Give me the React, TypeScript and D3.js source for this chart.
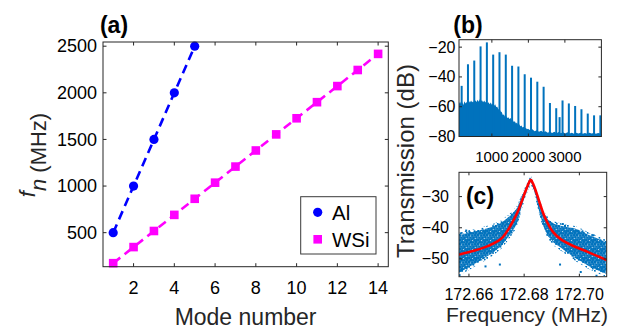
import React from 'react';
import * as d3 from 'd3';

const FONT = '"Liberation Sans", Arial, Helvetica, sans-serif';
const AXIS = '#262626';
const SPEC_BLUE = '#0072BD';

// ---------- (a) mode frequencies ----------
const modeTicks = [2, 4, 6, 8, 10, 12, 14];
const fnTicks = [500, 1000, 1500, 2000, 2500];
const alModes = [1, 2, 3, 4, 5];
const alFreqs = [500, 1000, 1500, 2000, 2500];
const wsiModes = [1, 2, 3, 4, 5, 6, 7, 8, 9, 10, 11, 12, 13, 14];
const wsiFreqs = [172.7, 345.4, 518.0, 690.7, 863.4, 1036.1, 1208.8, 1381.4, 1554.1, 1726.8, 1899.5, 2072.2, 2244.8, 2417.5];

// ---------- (b) wide spectrum ----------
const specXTicks = [1000, 2000, 3000];
const specYTicks = [-80, -60, -40, -20];
const peakFreqs = [172.7, 345.4, 518.0, 690.7, 863.4, 1036.1, 1208.8, 1381.4, 1554.1, 1726.8, 1899.5, 2072.2, 2244.8, 2417.5, 2590.2, 2762.9, 2855, 2935.6, 3108.2, 3280.9, 3453.6, 3626.3, 3799.0, 3971.6];
const peakLevels = [-46, -31.5, -29, -19.5, -16.8, -25, -23.4, -25, -32.5, -33, -38.2, -40.5, -43.2, -46.6, -57.5, -61, -67, -55.8, -57.8, -59.5, -61.7, -64.6, -65.8, -65.8];
const floorFreqs = [100, 130, 160, 190, 220, 250, 280, 310, 340, 370, 400, 430, 460, 490, 520, 550, 580, 610, 640, 670, 700, 730, 760, 790, 820, 850, 880, 910, 940, 970, 1000, 1030, 1060, 1090, 1120, 1150, 1180, 1210, 1240, 1270, 1300, 1330, 1360, 1390, 1420, 1450, 1480, 1510, 1540, 1570, 1600, 1630, 1660, 1690, 1720, 1750, 1780, 1810, 1840, 1870, 1900, 1930, 1960, 1990, 2050, 2110, 2170, 2230, 2290, 2350, 2410, 2470, 2530, 2590, 2650, 2710, 2770, 2830, 2890, 2950, 3010, 3070, 3130, 3190, 3250, 3310, 3370, 3430, 3490, 3550, 3610, 3670, 3730, 3790, 3850, 3910, 3970, 4000];
const floorLevels = [-58, -56.6, -58.4, -57, -58.8, -56.4, -57.8, -56.8, -58.2, -56, -57.2, -55.8, -57, -56.4, -57.6, -55.6, -56.8, -55.4, -56.6, -55, -56.2, -55.6, -57, -55.8, -57.2, -56.4, -57.8, -57, -58.4, -57.2, -58.6, -57.8, -59.4, -58.4, -60.2, -60, -61.8, -61.4, -63.2, -63.6, -65.6, -65.2, -66.8, -66.2, -67.6, -67, -68.2, -67.6, -69, -68.6, -70.2, -69.8, -71.2, -70.6, -72.2, -71.8, -73.2, -72.6, -74, -73.4, -74.6, -74.2, -75.2, -74.8, -75.8, -75.2, -76.4, -75.8, -76.8, -76.2, -77.2, -76.4, -77.4, -76.8, -77.6, -76.8, -77.8, -77, -77.8, -77.2, -78, -77.2, -78, -77.4, -78.2, -77.4, -78, -77.4, -78.2, -77.6, -78.2, -77.4, -78, -77.6, -78.2, -77.6, -78, -78];

// ---------- (c) single resonance ----------
const resXTicks = [172.66, 172.68, 172.70];
const resYTicks = [-50, -40, -30];
const cloudFreqs = [172.6563, 172.6600, 172.6640, 172.6680, 172.6718, 172.6754, 172.6775, 172.6791, 172.6805, 172.6815, 172.6824, 172.6833, 172.6843, 172.6855, 172.6870, 172.6887, 172.6910, 172.6936, 172.6960, 172.6984, 172.7010, 172.7032, 172.7060, 172.7099];
const cloudUpper = [-42.4, -41.6, -40.8, -39.8, -38.4, -35.8, -33.6, -30.2, -27.4, -25.6, -24.0, -25.8, -28.4, -31.6, -35.2, -37.4, -38.8, -39.4, -39.8, -40.2, -41.2, -42.2, -43.2, -44.8];
const cloudLower = [-54.5, -52.6, -50.6, -48.4, -45.8, -41.6, -38.6, -33.2, -29.2, -26.8, -25.2, -27.2, -30.4, -35.0, -39.6, -42.8, -45.0, -46.6, -48.2, -49.6, -51.0, -52.2, -53.4, -54.8];
const outlierFreqs = [172.6566, 172.6575, 172.6602, 172.6660, 172.6712, 172.6930, 172.6948, 172.7005, 172.7062, 172.7085, 172.6570, 172.6940, 172.7050, 172.6590, 172.6995];
const outlierLevels = [-55.2, -53.8, -41.4, -52.4, -51.8, -51.8, -39.4, -54.2, -55.4, -54.0, -41.8, -38.8, -42.4, -40.9, -41.0];
const fitFreqs = [172.6563, 172.6621, 172.6670, 172.6718, 172.6754, 172.6775, 172.6791, 172.6805, 172.6816, 172.6824, 172.6832, 172.6843, 172.6857, 172.6875, 172.6905, 172.6936, 172.6984, 172.7032, 172.7099];
const fitLevels = [-48.6, -47.3, -45.8, -43.4, -38.8, -35.2, -31.6, -28.2, -25.8, -24.6, -25.8, -28.4, -32.2, -36.6, -41.4, -43.9, -46.1, -47.8, -50.4];

// speckle texture positions within a 9x9 tile (style only)
const speckleX = [0, 3.1, 6.2, 1.4, 4.6, 7.5, 0.3, 2.8, 5.7, 8.0, 1.9, 4.2, 6.9, 0.8, 3.6];
const speckleY = [0, 0.6, 0.2, 2.5, 2.9, 2.2, 5.0, 4.6, 5.3, 4.9, 7.0, 7.4, 6.8, 8.3, 8.6];

type Scale = d3.ScaleLinear<number, number>;

function Box({ x, y, ticksX, ticksY, tl = 3.5 }: { x: Scale; y: Scale; ticksX: number[]; ticksY: number[]; tl?: number }) {
  const [x0, x1] = x.range();
  const [y0, y1] = y.range();
  return (
    <g stroke={AXIS} strokeWidth={1} fill="none">
      {ticksX.map((t) => (
        <g key={'x' + t}>
          <line x1={x(t)} x2={x(t)} y1={y0} y2={y0 - tl} />
          <line x1={x(t)} x2={x(t)} y1={y1} y2={y1 + tl} />
        </g>
      ))}
      {ticksY.map((t) => (
        <g key={'y' + t}>
          <line x1={x0} x2={x0 + tl} y1={y(t)} y2={y(t)} />
          <line x1={x1} x2={x1 - tl} y1={y(t)} y2={y(t)} />
        </g>
      ))}
      <rect x={x0} y={y1} width={x1 - x0} height={y0 - y1} />
    </g>
  );
}

export default function App() {
  // ---- (a)
  const xa = d3.scaleLinear().domain([0.5, 14.5]).range([103, 388.3]);
  const ya = d3.scaleLinear().domain([135, 2545]).range([266.7, 42]);
  const ptLine = d3.line<[number, number]>().x((d) => xa(d[0])).y((d) => ya(d[1]));
  const alPts: [number, number][] = alModes.map((m, i) => [m, alFreqs[i]]);
  const wsiPts: [number, number][] = wsiModes.map((m, i) => [m, wsiFreqs[i]]);

  // ---- (b)
  const xb = d3.scaleLinear().domain([100, 4000]).range([459, 601.4]);
  const yb = d3.scaleLinear().domain([-80, -15]).range([136.5, 39.7]);
  const floorArea = d3
    .area<number>()
    .x((_, i) => xb(floorFreqs[i]))
    .y0(yb(-80))
    .y1((d) => yb(d));

  // ---- (c)
  const xc = d3.scaleLinear().domain([172.6564, 172.7099]).range([459, 606.7]);
  const yc = d3.scaleLinear().domain([-55.7, -22.2]).range([276.7, 172.3]);
  const cloudArea = d3
    .area<number>()
    .x((_, i) => xc(cloudFreqs[i]))
    .y0((_, i) => yc(cloudLower[i]))
    .y1((d) => yc(d));
  const haloArea = d3
    .area<number>()
    .x((_, i) => xc(cloudFreqs[i]))
    .y0((_, i) => yc(cloudLower[i]) + 3)
    .y1((d) => yc(d) - 2.5);
  const fitLine = d3
    .line<number>()
    .x((_, i) => xc(fitFreqs[i]))
    .y((d) => yc(d))
    .curve(d3.curveCatmullRom);

  const tickFont = { fontFamily: FONT, fill: '#000' } as const;

  return (
    <svg width={626} height={331} style={{ position: 'absolute', left: 0, top: 0, background: '#fff' }}>
      <defs>
        <clipPath id="clipB">
          <rect x={459} y={39.7} width={142.4} height={96.8} />
        </clipPath>
        <clipPath id="clipC">
          <rect x={459} y={172.3} width={147.7} height={104.4} />
        </clipPath>
        <pattern id="dots" width={9} height={9} patternUnits="userSpaceOnUse">
          {speckleX.filter((_, i) => i % 2 === 0).map((sx, i) => (
            <rect key={i} x={sx} y={speckleY[i * 2]} width={1.7} height={1.7} fill={SPEC_BLUE} />
          ))}
        </pattern>
        <pattern id="dense" width={9} height={9} patternUnits="userSpaceOnUse">
          <rect x={0} y={0} width={9} height={9} fill={SPEC_BLUE} opacity={0.82} />
          {speckleX.map((sx, i) => (
            <rect key={i} x={sx} y={speckleY[i]} width={2} height={2} fill={SPEC_BLUE} />
          ))}
          <rect x={2.2} y={1.6} width={0.9} height={0.9} fill="#fff" opacity={0.8} />
          <rect x={6.8} y={4.0} width={0.9} height={0.9} fill="#fff" opacity={0.8} />
          <rect x={4.0} y={6.1} width={0.9} height={0.9} fill="#fff" opacity={0.8} />
        </pattern>
      </defs>
      <rect x={0} y={0} width={626} height={331} fill="#fff" />

      {/* ================= (a) ================= */}
      <text x={114} y={33} textAnchor="middle" fontFamily={FONT} fontWeight="bold" fontSize={23}>(a)</text>
      <path d={ptLine(alPts) || ''} stroke="#0000FF" strokeWidth={2.6} strokeDasharray="9,5.5" fill="none" />
      <path d={ptLine(wsiPts) || ''} stroke="#FF00FF" strokeWidth={2.6} strokeDasharray="9,5.5" fill="none" />
      {alPts.map((d, i) => (
        <circle key={'al' + i} cx={xa(d[0])} cy={ya(d[1])} r={4.6} fill="#0000FF" />
      ))}
      {wsiPts.map((d, i) => (
        <rect key={'ws' + i} x={xa(d[0]) - 4.3} y={ya(d[1]) - 4.3} width={8.6} height={8.6} fill="#FF00FF" />
      ))}
      <Box x={xa} y={ya} ticksX={modeTicks} ticksY={fnTicks} />
      {modeTicks.map((t) => (
        <text key={'mx' + t} x={xa(t)} y={294} textAnchor="middle" fontSize={18} {...tickFont}>{t}</text>
      ))}
      {fnTicks.map((t) => (
        <text key={'my' + t} x={97} y={ya(t) + 6.3} textAnchor="end" fontSize={18} {...tickFont}>{t}</text>
      ))}
      <text x={245.6} y={325} textAnchor="middle" fontFamily={FONT} fontSize={23} fill="#262626">Mode number</text>
      <text transform="translate(46,155) rotate(-90)" textAnchor="middle" fontFamily={FONT} fontSize={22} fill="#262626">
        <tspan fontStyle="italic" dy={-11}>f</tspan>
        <tspan fontStyle="italic" dy={11}>n</tspan>
        <tspan> (MHz)</tspan>
      </text>
      {/* legend */}
      <rect x={300.7} y={196.7} width={75.3} height={57.3} fill="#fff" stroke="#3a3a3a" strokeWidth={1} />
      <circle cx={317.7} cy={212.3} r={4.6} fill="#0000FF" />
      <rect x={317.7 - 4.3} y={239.3 - 4.3} width={8.6} height={8.6} fill="#FF00FF" />
      <text x={332} y={219.5} fontFamily={FONT} fontSize={20.5} fill="#000">Al</text>
      <text x={332} y={246.5} fontFamily={FONT} fontSize={20.5} fill="#000">WSi</text>

      {/* ================= (b) ================= */}
      <text x={468} y={33} textAnchor="middle" fontFamily={FONT} fontWeight="bold" fontSize={23}>(b)</text>
      <g clipPath="url(#clipB)">
        <path d={floorArea(floorLevels) || ''} fill={SPEC_BLUE} />
        {peakFreqs.map((f, i) => (
          <rect key={'pk' + i} x={xb(f) - 1} y={yb(peakLevels[i])} width={2} height={yb(-80) - yb(peakLevels[i])} fill={SPEC_BLUE} />
        ))}
      </g>
      <Box x={xb} y={yb} ticksX={specXTicks} ticksY={specYTicks} tl={3} />
      {specXTicks.map((t) => (
        <text key={'bx' + t} x={xb(t)} y={161.5} textAnchor="middle" fontSize={15} {...tickFont}>{t}</text>
      ))}
      {specYTicks.map((t) => (
        <text key={'by' + t} x={455.5} y={yb(t) + 5.5} textAnchor="end" fontSize={16} {...tickFont}>{'\u2212' + Math.abs(t)}</text>
      ))}

      {/* ================= (c) ================= */}
      <g clipPath="url(#clipC)">
        <path d={haloArea(cloudUpper) || ''} fill="url(#dots)" />
        <path d={cloudArea(cloudUpper) || ''} fill="url(#dense)" />
        {outlierFreqs.map((f, i) => (
          <rect key={'ol' + i} x={xc(f) - 1} y={yc(outlierLevels[i]) - 1} width={2} height={2} fill={SPEC_BLUE} />
        ))}
        <path d={fitLine(fitLevels) || ''} stroke="#FF0000" strokeWidth={2.6} fill="none" />
      </g>
      <Box x={xc} y={yc} ticksX={resXTicks} ticksY={resYTicks} tl={3} />
      <text x={480} y={204} textAnchor="middle" fontFamily={FONT} fontWeight="bold" fontSize={23}>(c)</text>
      {resXTicks.map((t) => (
        <text key={'cx' + t} x={xc(t)} y={300} textAnchor="middle" fontSize={16} {...tickFont}>{t.toFixed(2)}</text>
      ))}
      {resYTicks.map((t) => (
        <text key={'cy' + t} x={449} y={yc(t) + 5.5} textAnchor="end" fontSize={16} {...tickFont}>{'\u2212' + Math.abs(t)}</text>
      ))}
      <text x={527} y={322} textAnchor="middle" fontFamily={FONT} fontSize={21} fill="#262626">Frequency (MHz)</text>
      <text transform="translate(414,161) rotate(-90)" textAnchor="middle" fontFamily={FONT} fontSize={24} fill="#262626">Transmission (dB)</text>
    </svg>
  );
}
